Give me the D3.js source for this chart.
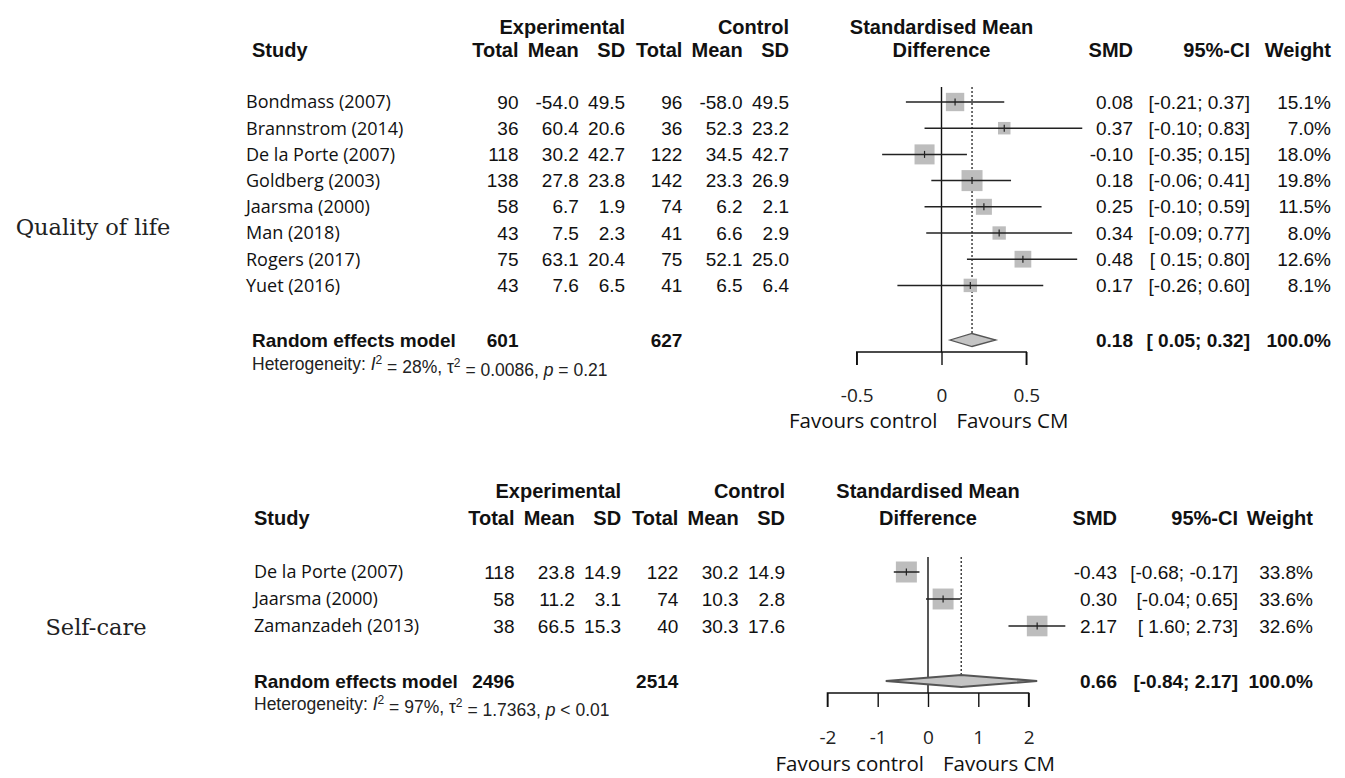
<!DOCTYPE html>
<html>
<head>
<meta charset="utf-8">
<script src="https://cdn.jsdelivr.net/npm/d3@7"></script>
<style>
  html, body { margin: 0; padding: 0; background: #fff; }
  svg { display: block; }
</style>
</head>
<body>
<svg id="chart" width="1345" height="778"></svg>
<script>
// ---- Quality of life ----
const qolStudies = ["Bondmass (2007)", "Brannstrom (2014)", "De la Porte (2007)", "Goldberg (2003)",
                    "Jaarsma (2000)", "Man (2018)", "Rogers (2017)", "Yuet (2016)"];
const qolExpTotal = [90, 36, 118, 138, 58, 43, 75, 43];
const qolExpMean  = [-54.0, 60.4, 30.2, 27.8, 6.7, 7.5, 63.1, 7.6];
const qolExpSD    = [49.5, 20.6, 42.7, 23.8, 1.9, 2.3, 20.4, 6.5];
const qolCtlTotal = [96, 36, 122, 142, 74, 41, 75, 41];
const qolCtlMean  = [-58.0, 52.3, 34.5, 23.3, 6.2, 6.6, 52.1, 6.5];
const qolCtlSD    = [49.5, 23.2, 42.7, 26.9, 2.1, 2.9, 25.0, 6.4];
const qolSMD      = [0.08, 0.37, -0.10, 0.18, 0.25, 0.34, 0.48, 0.17];
const qolLower    = [-0.21, -0.10, -0.35, -0.06, -0.10, -0.09, 0.15, -0.26];
const qolUpper    = [0.37, 0.83, 0.15, 0.41, 0.59, 0.77, 0.80, 0.60];
const qolWeight   = [15.1, 7.0, 18.0, 19.8, 11.5, 8.0, 12.6, 8.1];
const qolPooled   = [0.18, 0.05, 0.32];       // SMD, lower, upper
const qolTotals   = [601, 627];
const qolHet      = ["28%", "0.0086", "= 0.21"];
const qolTicks    = [-0.5, 0, 0.5];

// ---- Self-care ----
const scStudies  = ["De la Porte (2007)", "Jaarsma (2000)", "Zamanzadeh (2013)"];
const scExpTotal = [118, 58, 38];
const scExpMean  = [23.8, 11.2, 66.5];
const scExpSD    = [14.9, 3.1, 15.3];
const scCtlTotal = [122, 74, 40];
const scCtlMean  = [30.2, 10.3, 30.3];
const scCtlSD    = [14.9, 2.8, 17.6];
const scSMD      = [-0.43, 0.30, 2.17];
const scLower    = [-0.68, -0.04, 1.60];
const scUpper    = [-0.17, 0.65, 2.73];
const scWeight   = [33.8, 33.6, 32.6];
const scPooled   = [0.66, -0.84, 2.17];
const scTotals   = [2496, 2514];
const scHet      = ["97%", "1.7363", "< 0.01"];
const scTicks    = [-2, -1, 0, 1, 2];

const outcomeLabels = ["Quality of life", "Self-care"];

const svg = d3.select("#chart");
const ARIAL = "'Liberation Sans', Arial, sans-serif";
const HUMAN = "'Open Sans', 'Noto Sans', sans-serif";
const SERIF = "'DejaVu Serif', serif";

function txt(g, x, y, s, o = {}) {
  return g.append("text")
    .attr("x", x).attr("y", y)
    .attr("text-anchor", o.anchor || "start")
    .attr("dy", "0.35em")
    .style("font-family", o.font || ARIAL)
    .style("font-size", (o.size || 19) + "px")
    .style("font-weight", o.bold ? "bold" : "normal")
    .style("fill", o.color || "#111")
    .text(s);
}

const f1 = d => d.toFixed(1);
const f2 = d => d.toFixed(2);
const pad = d => (d >= 0 ? " " : "") + f2(d);
const ci = (lo, hi) => `[${pad(lo)}; ${f2(hi)}]`;

function forest(cfg, d) {
  const g = svg.append("g");
  const x = d3.scaleLinear().domain(d3.extent(d.ticks)).range(cfg.range);
  const rowY = i => cfg.rowY0 + i * cfg.rowStep;
  const H = { bold: true, anchor: "end", size: 20 };

  // column headers
  txt(g, cfg.col[2], cfg.h1, "Experimental", H);
  txt(g, cfg.col[5], cfg.h1, "Control", H);
  txt(g, cfg.rX, cfg.h2, "Study", { bold: true, size: 20 });
  ["Total", "Mean", "SD", "Total", "Mean", "SD"].forEach((h, j) => txt(g, cfg.col[j], cfg.h2, h, H));
  txt(g, x(0), cfg.h1, "Standardised Mean", { bold: true, anchor: "middle", size: 20 });
  txt(g, x(0), cfg.h2, "Difference", { bold: true, anchor: "middle", size: 20 });
  txt(g, cfg.smdX, cfg.h2, "SMD", H);
  txt(g, cfg.ciX, cfg.h2, "95%-CI", H);
  txt(g, cfg.wX, cfg.h2, "Weight", H);

  // study rows
  const cols = [d.expTotal, d.expMean.map(f1), d.expSD.map(f1), d.ctlTotal, d.ctlMean.map(f1), d.ctlSD.map(f1)];
  d.studies.forEach((s, i) => {
    const y = rowY(i);
    txt(g, cfg.studyX, y, s, { font: HUMAN, size: 18 });
    cols.forEach((c, j) => txt(g, cfg.col[j], y, c[i], { anchor: "end" }));
    txt(g, cfg.smdX, y, f2(d.smd[i]), { anchor: "end" });
    txt(g, cfg.ciX, y, ci(d.lower[i], d.upper[i]), { anchor: "end" });
    txt(g, cfg.wX, y, f1(d.weight[i]) + "%", { anchor: "end" });
  });

  // summary row
  const sy = cfg.sumY;
  const B = { bold: true, anchor: "end" };
  txt(g, cfg.rX, sy, "Random effects model", { bold: true });
  txt(g, cfg.col[0], sy, d.totals[0], B);
  txt(g, cfg.col[3], sy, d.totals[1], B);
  txt(g, cfg.smdX, sy, f2(d.pooled[0]), B);
  txt(g, cfg.ciX, sy, ci(d.pooled[1], d.pooled[2]), B);
  txt(g, cfg.wX, sy, "100.0%", B);

  // heterogeneity line
  const het = g.append("text")
    .attr("x", cfg.rX).attr("y", cfg.hetY).attr("dy", "0.35em")
    .style("font-family", ARIAL).style("font-size", "17.5px").style("fill", "#222");
  het.append("tspan").text("Heterogeneity: ");
  het.append("tspan").style("font-style", "italic").text("I");
  het.append("tspan").attr("dy", "-0.5em").style("font-size", "12px").text("2");
  het.append("tspan").attr("dy", "0.5em").text(` = ${d.het[0]}, \u03c4`);
  het.append("tspan").attr("dy", "-0.5em").style("font-size", "12px").text("2");
  het.append("tspan").attr("dy", "0.5em").text(` = ${d.het[1]}, `);
  het.append("tspan").style("font-style", "italic").text("p");
  het.append("tspan").text(` ${d.het[2]}`);

  // reference lines: no effect (solid) and pooled estimate (dotted)
  g.append("line").attr("x1", x(0)).attr("x2", x(0)).attr("y1", cfg.refTop).attr("y2", cfg.axisY)
    .attr("stroke", "#111").attr("stroke-width", 1.4);
  g.append("line").attr("x1", x(d.pooled[0])).attr("x2", x(d.pooled[0]))
    .attr("y1", cfg.refTop).attr("y2", sy - cfg.diamondH)
    .attr("stroke", "#111").attr("stroke-width", 1.2).attr("stroke-dasharray", "2,2");

  // confidence intervals and weight squares
  const side = d3.scaleSqrt().domain([0, d3.max(d.weight)]).range([0, cfg.maxSide]);
  d.studies.forEach((s, i) => {
    const y = rowY(i);
    const sz = side(d.weight[i]);
    g.append("rect").attr("x", x(d.smd[i]) - sz / 2).attr("y", y - sz / 2)
      .attr("width", sz).attr("height", sz).attr("fill", "#bdbdbd");
    g.append("line").attr("x1", x(d.lower[i])).attr("x2", x(d.upper[i])).attr("y1", y).attr("y2", y)
      .attr("stroke", "#222").attr("stroke-width", 1.5);
    g.append("line").attr("x1", x(d.smd[i])).attr("x2", x(d.smd[i])).attr("y1", y - 3.5).attr("y2", y + 3.5)
      .attr("stroke", "#222").attr("stroke-width", 1.2);
  });

  // pooled diamond
  const dm = [[x(d.pooled[1]), sy], [x(d.pooled[0]), sy - cfg.diamondH],
              [x(d.pooled[2]), sy], [x(d.pooled[0]), sy + cfg.diamondH]];
  g.append("path").attr("d", d3.line()(dm) + "Z")
    .attr("fill", "#c4c4c4").attr("stroke", "#555").attr("stroke-width", cfg.diamondStroke);

  // x axis
  const axis = d3.axisBottom(x).tickValues(d.ticks).tickSize(cfg.tickLen).tickPadding(24)
    .tickFormat(v => (v === 0 ? "0" : String(v)));
  const ax = g.append("g").attr("transform", `translate(0,${cfg.axisY})`).call(axis);
  ax.select(".domain").attr("d", `M${cfg.range[0]},${cfg.tickLen}V0H${cfg.range[1]}V${cfg.tickLen}`)
    .attr("stroke", "#111").attr("stroke-width", 1.4).attr("fill", "none");
  ax.selectAll(".tick line").attr("stroke", "#111").attr("stroke-width", 1.4);
  ax.selectAll(".tick text").style("font-family", HUMAN).style("font-size", "19px").style("fill", "#222");

  txt(g, x(0) - 4, cfg.favY, "Favours control", { font: HUMAN, size: 20.5, anchor: "end" });
  txt(g, x(0) + 15, cfg.favY, "Favours CM", { font: HUMAN, size: 20.5 });

  // outcome label
  txt(g, cfg.labelX, cfg.labelY, d.label, { font: SERIF, size: 22.5, anchor: "middle", color: "#222" });
}

forest({
  range: [856.7, 1026.3], h1: 27, h2: 50, rowY0: 102, rowStep: 26.2, sumY: 340, hetY: 364,
  axisY: 352, tickLen: 13, refTop: 87, favY: 421, diamondH: 6.5, diamondStroke: 1.3, maxSide: 21,
  studyX: 246, rX: 252, col: [518.5, 578.8, 625.1, 682.4, 742.7, 789],
  smdX: 1133, ciX: 1250, wX: 1331, labelX: 93, labelY: 227
}, {
  studies: qolStudies, expTotal: qolExpTotal, expMean: qolExpMean, expSD: qolExpSD,
  ctlTotal: qolCtlTotal, ctlMean: qolCtlMean, ctlSD: qolCtlSD, smd: qolSMD, lower: qolLower,
  upper: qolUpper, weight: qolWeight, pooled: qolPooled, totals: qolTotals, het: qolHet,
  ticks: qolTicks, label: outcomeLabels[0]
});

forest({
  range: [827.4, 1028.6], h1: 491, h2: 518, rowY0: 572, rowStep: 27, sumY: 681, hetY: 704,
  axisY: 693, tickLen: 14, refTop: 557, favY: 764, diamondH: 6, diamondStroke: 2.2, maxSide: 21,
  studyX: 254, rX: 254, col: [514.5, 574.8, 621.1, 678.4, 738.7, 785],
  smdX: 1117, ciX: 1238, wX: 1313, labelX: 96, labelY: 627
}, {
  studies: scStudies, expTotal: scExpTotal, expMean: scExpMean, expSD: scExpSD,
  ctlTotal: scCtlTotal, ctlMean: scCtlMean, ctlSD: scCtlSD, smd: scSMD, lower: scLower,
  upper: scUpper, weight: scWeight, pooled: scPooled, totals: scTotals, het: scHet,
  ticks: scTicks, label: outcomeLabels[1]
});
</script>
</body>
</html>
